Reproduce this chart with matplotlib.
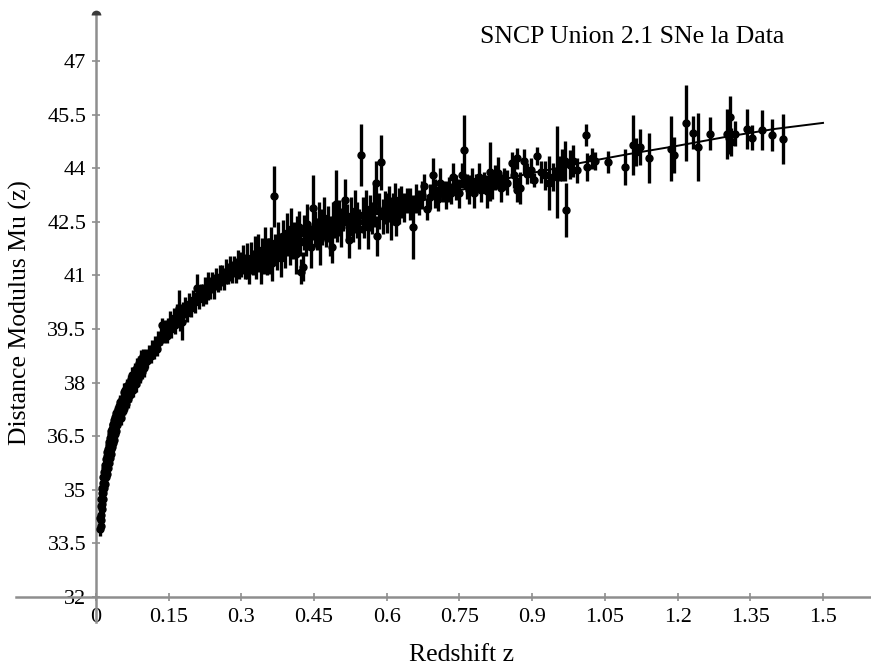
import matplotlib
matplotlib.use('Agg')
import matplotlib.pyplot as plt
import numpy as np

z_low = [0.008, 0.009, 0.0095, 0.010, 0.010, 0.011, 0.011, 0.012, 0.012, 0.013,
         0.013, 0.014, 0.014, 0.015, 0.015, 0.016, 0.016, 0.017, 0.018, 0.018,
         0.019, 0.020, 0.020, 0.021, 0.022, 0.022, 0.023, 0.024, 0.024, 0.025,
         0.026, 0.026, 0.027, 0.028, 0.028, 0.029, 0.030, 0.030, 0.031, 0.032,
         0.033, 0.034, 0.035, 0.035, 0.036, 0.037, 0.038, 0.039, 0.040, 0.041,
         0.042, 0.043, 0.045, 0.046, 0.048, 0.050, 0.051, 0.053, 0.055, 0.057,
         0.058, 0.060, 0.062, 0.064, 0.066, 0.068, 0.070, 0.072, 0.074, 0.076,
         0.078, 0.080, 0.082, 0.084, 0.086, 0.088, 0.090, 0.093, 0.095, 0.098,
         0.100]
mu_low = [33.9, 34.2, 34.0, 34.15, 34.55, 34.3, 34.75, 34.45, 34.9, 34.6,
          35.05, 34.75, 35.2, 34.9, 35.35, 35.05, 35.5, 35.2, 35.6, 35.15,
          35.7, 35.35, 35.85, 35.5, 35.95, 35.45, 36.05, 35.6, 36.15, 35.75,
          36.25, 35.75, 36.35, 35.9, 36.45, 36.05, 36.0, 36.55, 36.15, 36.65,
          36.2, 36.7, 36.8, 36.3, 36.85, 36.4, 36.95, 36.55, 37.05, 36.65,
          37.15, 36.8, 37.25, 36.9, 37.35, 37.45, 37.0, 37.55, 37.2, 37.75,
          37.3, 37.8, 37.4, 37.9, 37.55, 38.0, 37.65, 38.1, 38.2, 37.8,
          38.25, 38.35, 37.95, 38.45, 38.1, 38.55, 38.2, 38.65, 38.3, 38.75,
          38.4]
err_low = [0.2, 0.2, 0.15, 0.2, 0.2, 0.15, 0.2, 0.2, 0.15, 0.2,
           0.2, 0.15, 0.2, 0.2, 0.15, 0.2, 0.2, 0.2, 0.15, 0.2,
           0.2, 0.15, 0.2, 0.2, 0.2, 0.15, 0.2, 0.2, 0.15, 0.2,
           0.2, 0.15, 0.2, 0.2, 0.2, 0.15, 0.2, 0.2, 0.15, 0.2,
           0.2, 0.2, 0.15, 0.2, 0.2, 0.2, 0.2, 0.15, 0.2, 0.2,
           0.2, 0.2, 0.2, 0.15, 0.2, 0.2, 0.2, 0.2, 0.2, 0.25,
           0.2, 0.2, 0.2, 0.2, 0.25, 0.2, 0.2, 0.2, 0.25, 0.2,
           0.2, 0.2, 0.2, 0.25, 0.2, 0.2, 0.2, 0.25, 0.2, 0.2,
           0.25]

z_near = [0.103, 0.106, 0.110, 0.113, 0.116, 0.119, 0.122, 0.125, 0.128, 0.131,
          0.134, 0.137, 0.140, 0.143, 0.146, 0.149, 0.152, 0.155, 0.158, 0.161,
          0.164, 0.167, 0.171, 0.174, 0.177, 0.180, 0.184, 0.188, 0.192, 0.196,
          0.200, 0.204, 0.208, 0.212, 0.216, 0.220, 0.224, 0.228, 0.232, 0.236,
          0.240, 0.244, 0.248, 0.252, 0.256, 0.260, 0.264, 0.268, 0.272, 0.276,
          0.280, 0.284, 0.288, 0.292, 0.296, 0.300]
mu_near = [38.7, 38.6, 38.8, 38.75, 38.95, 38.85, 39.05, 38.95, 39.2, 39.15,
           39.3, 39.6, 39.35, 39.45, 39.3, 39.55, 39.7, 39.5, 39.65, 39.8,
           39.6, 39.9, 40.1, 39.75, 39.7, 40.0, 40.1, 39.95, 40.2, 40.1,
           40.3, 40.25, 40.65, 40.35, 40.5, 40.45, 40.6, 40.5, 40.7, 40.65,
           40.8, 40.7, 40.9, 40.8, 40.95, 41.0, 40.9, 41.1, 41.05, 41.2,
           41.1, 41.25, 41.15, 41.35, 41.2, 41.3]
err_near = [0.25, 0.2, 0.25, 0.2, 0.25, 0.2, 0.25, 0.2, 0.25, 0.2,
            0.25, 0.2, 0.25, 0.3, 0.2, 0.25, 0.3, 0.25, 0.2, 0.3,
            0.25, 0.3, 0.5, 0.3, 0.5, 0.25, 0.3, 0.25, 0.3, 0.25,
            0.3, 0.3, 0.4, 0.3, 0.25, 0.3, 0.35, 0.3, 0.4, 0.3,
            0.3, 0.35, 0.3, 0.25, 0.35, 0.3, 0.3, 0.35, 0.3, 0.35,
            0.3, 0.3, 0.35, 0.35, 0.3, 0.35]

z_mid = [0.304, 0.308, 0.312, 0.316, 0.320, 0.324, 0.328, 0.331, 0.334, 0.337,
         0.340, 0.343, 0.346, 0.349, 0.352, 0.355, 0.358, 0.361, 0.364, 0.367,
         0.370, 0.373, 0.376, 0.379, 0.382, 0.385, 0.388, 0.391, 0.394, 0.397,
         0.400, 0.403, 0.406, 0.409, 0.412, 0.415, 0.418, 0.421, 0.424, 0.427,
         0.430, 0.433, 0.436, 0.440, 0.444, 0.448, 0.452, 0.456, 0.460, 0.462,
         0.466, 0.470, 0.474, 0.478, 0.482, 0.487, 0.490, 0.495, 0.498]
mu_mid = [41.45, 41.25, 41.4, 41.15, 41.5, 41.35, 41.6, 41.3, 41.7, 41.45,
          41.25, 41.65, 41.5, 41.85, 41.4, 41.7, 41.55, 41.9, 41.35, 43.22,
          41.75, 41.6, 42.0, 41.8, 41.5, 42.1, 41.85, 41.7, 42.2, 41.95,
          41.75, 42.3, 41.9, 42.1, 41.6, 42.15, 42.35, 41.95, 41.1, 41.25,
          42.2, 42.0, 42.45, 42.1, 41.8, 42.9, 42.3, 42.15, 42.5, 42.0,
          42.35, 42.6, 42.25, 42.45, 42.1, 41.8, 42.55, 43.0, 42.4]
err_mid = [0.4, 0.35, 0.5, 0.4, 0.45, 0.35, 0.5, 0.4, 0.45, 0.35,
           0.5, 0.4, 0.45, 0.5, 0.4, 0.35, 0.5, 0.45, 0.5, 0.85,
           0.4, 0.45, 0.5, 0.4, 0.55, 0.45, 0.4, 0.5, 0.55, 0.4,
           0.45, 0.6, 0.45, 0.4, 0.55, 0.5, 0.45, 0.4, 0.35, 0.4,
           0.5, 0.45, 0.55, 0.4, 0.6, 0.9, 0.5, 0.45, 0.55, 0.7,
           0.5, 0.6, 0.45, 0.5, 0.55, 0.45, 0.5, 0.95, 0.45]

z_far = [0.502, 0.506, 0.510, 0.514, 0.518, 0.522, 0.526, 0.530, 0.534, 0.538,
         0.542, 0.547, 0.550, 0.554, 0.558, 0.562, 0.566, 0.570, 0.574, 0.578,
         0.580, 0.584, 0.588, 0.592, 0.596, 0.600, 0.604, 0.608, 0.612, 0.617,
         0.620, 0.625, 0.630, 0.636, 0.642, 0.648, 0.654, 0.660, 0.666, 0.672,
         0.677, 0.683, 0.690, 0.695, 0.700, 0.706, 0.710, 0.716, 0.722, 0.728,
         0.733, 0.737, 0.742, 0.748, 0.755, 0.760, 0.765, 0.770]
mu_far = [42.6, 42.35, 42.7, 43.1, 42.5, 42.0, 42.65, 42.4, 42.8, 42.55,
          42.3, 44.37, 42.7, 42.5, 42.85, 42.35, 42.75, 42.6, 42.95, 43.6,
          42.1, 42.8, 44.17, 42.65, 42.9, 42.75, 43.0, 42.6, 42.85, 43.1,
          42.5, 42.95, 43.05, 42.9, 43.1, 43.0, 42.35, 43.15, 43.05, 43.25,
          43.5, 42.85, 43.2, 43.8, 43.3, 43.15, 43.6, 43.35, 43.25, 43.4,
          43.3, 43.76, 43.45, 43.3, 43.8, 44.5, 43.5, 43.4]
err_far = [0.5, 0.55, 0.45, 0.6, 0.5, 0.5, 0.55, 0.45, 0.6, 0.5,
           0.55, 0.87, 0.5, 0.45, 0.55, 0.6, 0.5, 0.45, 0.6, 0.6,
           0.55, 0.5, 0.77, 0.5, 0.45, 0.55, 0.5, 0.6, 0.45, 0.5,
           0.4, 0.5, 0.45, 0.4, 0.35, 0.45, 0.9, 0.4, 0.35, 0.4,
           0.35, 0.3, 0.35, 0.5, 0.4, 0.35, 0.4, 0.3, 0.4, 0.35,
           0.3, 0.4, 0.35, 0.4, 0.35, 1.0, 0.35, 0.4]

z_deep = [0.775, 0.780, 0.785, 0.790, 0.795, 0.800, 0.806, 0.813, 0.818, 0.823,
          0.830, 0.836, 0.842, 0.848, 0.858, 0.863, 0.868, 0.869, 0.875, 0.883,
          0.890, 0.897, 0.904, 0.910, 0.918, 0.926, 0.935, 0.942, 0.951, 0.957,
          0.961, 0.968, 0.970, 0.978, 0.985, 0.992, 1.010, 1.013, 1.023, 1.030,
          1.056, 1.091, 1.108, 1.115, 1.122, 1.141, 1.186, 1.192, 1.217, 1.232,
          1.242, 1.267, 1.302, 1.306, 1.308, 1.310, 1.318, 1.343, 1.353, 1.374,
          1.395, 1.417]
mu_deep = [43.65, 43.3, 43.55, 43.75, 43.4, 43.6, 43.35, 43.9, 43.55, 43.75,
           43.87, 43.45, 43.7, 43.6, 44.15, 43.8, 43.4, 44.28, 43.45, 44.2,
           43.85, 43.95, 43.67, 44.34, 43.9, 43.8, 43.59, 43.75, 43.9, 44.0,
           44.1, 44.2, 42.83, 44.1, 44.2, 43.95, 44.93, 44.03, 44.28, 44.2,
           44.17, 44.03, 44.65, 44.45, 44.6, 44.28, 44.55, 44.37, 45.27, 45.0,
           44.6, 44.97, 44.97, 44.85, 45.43, 44.73, 44.97, 45.1, 44.85, 45.07,
           44.93, 44.82]
err_deep = [0.35, 0.4, 0.3, 0.4, 0.35, 0.3, 0.45, 0.83, 0.4, 0.35,
            0.45, 0.4, 0.3, 0.35, 0.3, 0.35, 0.35, 0.3, 0.45, 0.35,
            0.3, 0.35, 0.2, 0.25, 0.3, 0.4, 0.75, 0.4, 1.28, 0.35,
            0.45, 0.55, 0.75, 0.4, 0.45, 0.35, 0.3, 0.4, 0.3, 0.25,
            0.3, 0.5, 0.85, 0.4, 0.5, 0.7, 0.9, 0.5, 1.07, 0.45,
            0.95, 0.47, 0.7, 0.45, 0.58, 0.4, 0.35, 0.55, 0.35, 0.55,
            0.45, 0.7]

# fitted model curve
curve_z = [0.008, 0.01, 0.015, 0.02, 0.025, 0.03, 0.04, 0.05, 0.06, 0.08,
           0.1, 0.125, 0.15, 0.175, 0.2, 0.25, 0.3, 0.35, 0.4, 0.45,
           0.5, 0.55, 0.6, 0.65, 0.7, 0.75, 0.8, 0.85, 0.9, 0.95,
           1.0, 1.1, 1.2, 1.3, 1.4, 1.5]
curve_mu = [33.85, 34.15, 34.9, 35.45, 35.85, 36.2, 36.75, 37.2, 37.55, 38.15,
            38.6, 39.05, 39.5, 39.85, 40.2, 40.8, 41.25, 41.6, 41.9, 42.15,
            42.4, 42.6, 42.8, 43.0, 43.2, 43.38, 43.55, 43.72, 43.87, 44.0,
            44.15, 44.4, 44.63, 44.88, 45.1, 45.27]

x_ticks = [0, 0.15, 0.3, 0.45, 0.6, 0.75, 0.9, 1.05, 1.2, 1.35, 1.5]
x_tick_labels = ['0', '0.15', '0.3', '0.45', '0.6', '0.75', '0.9', '1.05', '1.2', '1.35', '1.5']
y_ticks = [32, 33.5, 35, 36.5, 38, 39.5, 41, 42.5, 44, 45.5, 47]
y_tick_labels = ['32', '33.5', '35', '36.5', '38', '39.5', '41', '42.5', '44', '45.5', '47']

z = np.concatenate([z_low, z_near, z_mid, z_far, z_deep])
mu = np.concatenate([mu_low, mu_near, mu_mid, mu_far, mu_deep])
err = np.concatenate([err_low, err_near, err_mid, err_far, err_deep])

plt.rcParams['font.family'] = ['Liberation Serif', 'DejaVu Serif']

AXIS_GREY = '#8e8e8e'
Y_TOP = 48.3

fig = plt.figure(figsize=(8.71, 6.67), dpi=100)
ax = fig.add_axes([0, 0, 1, 1])
ax.set_xlim(-0.198, 1.599)
ax.set_ylim(30.04, 48.71)

ax.plot(curve_z, curve_mu, color='black', linewidth=1.4, zorder=2)
ax.errorbar(z, mu, yerr=err, fmt='o', color='black', markersize=5,
            elinewidth=2.4, capsize=0, zorder=3)

for side in ('top', 'right'):
    ax.spines[side].set_visible(False)
ax.spines['left'].set_position(('data', 0))
ax.spines['bottom'].set_position(('data', 32))
ax.spines['left'].set_bounds(31.3, Y_TOP)
ax.spines['bottom'].set_bounds(-0.165, 1.599)
for side in ('left', 'bottom'):
    ax.spines[side].set_color(AXIS_GREY)
    ax.spines[side].set_linewidth(1.8)
ax.plot([0], [Y_TOP], marker='o', markersize=7, fillstyle='top',
        markerfacecoloralt='none', markeredgewidth=0, color='#3a3a3a',
        clip_on=False, zorder=4)

ax.set_xticks(x_ticks)
ax.set_xticklabels(x_tick_labels)
ax.set_yticks(y_ticks)
ax.set_yticklabels(y_tick_labels)
ax.tick_params(axis='both', direction='inout', length=6, width=1.2,
               color=AXIS_GREY, labelsize=16, labelcolor='black')
ax.tick_params(axis='x', pad=5)
ax.tick_params(axis='y', pad=4)
ax.patch.set_visible(False)

fig.text(0.726, 0.945, 'SNCP Union 2.1 SNe la Data', ha='center', va='center', fontsize=18.5)
fig.text(0.530, 0.018, 'Redshift z', ha='center', va='center', fontsize=18.5)
fig.text(0.023, 0.532, 'Distance Modulus Mu (z)', ha='center', va='center',
         rotation=90, fontsize=18.5)

fig.savefig('out.png', dpi=100)
plt.close(fig)
